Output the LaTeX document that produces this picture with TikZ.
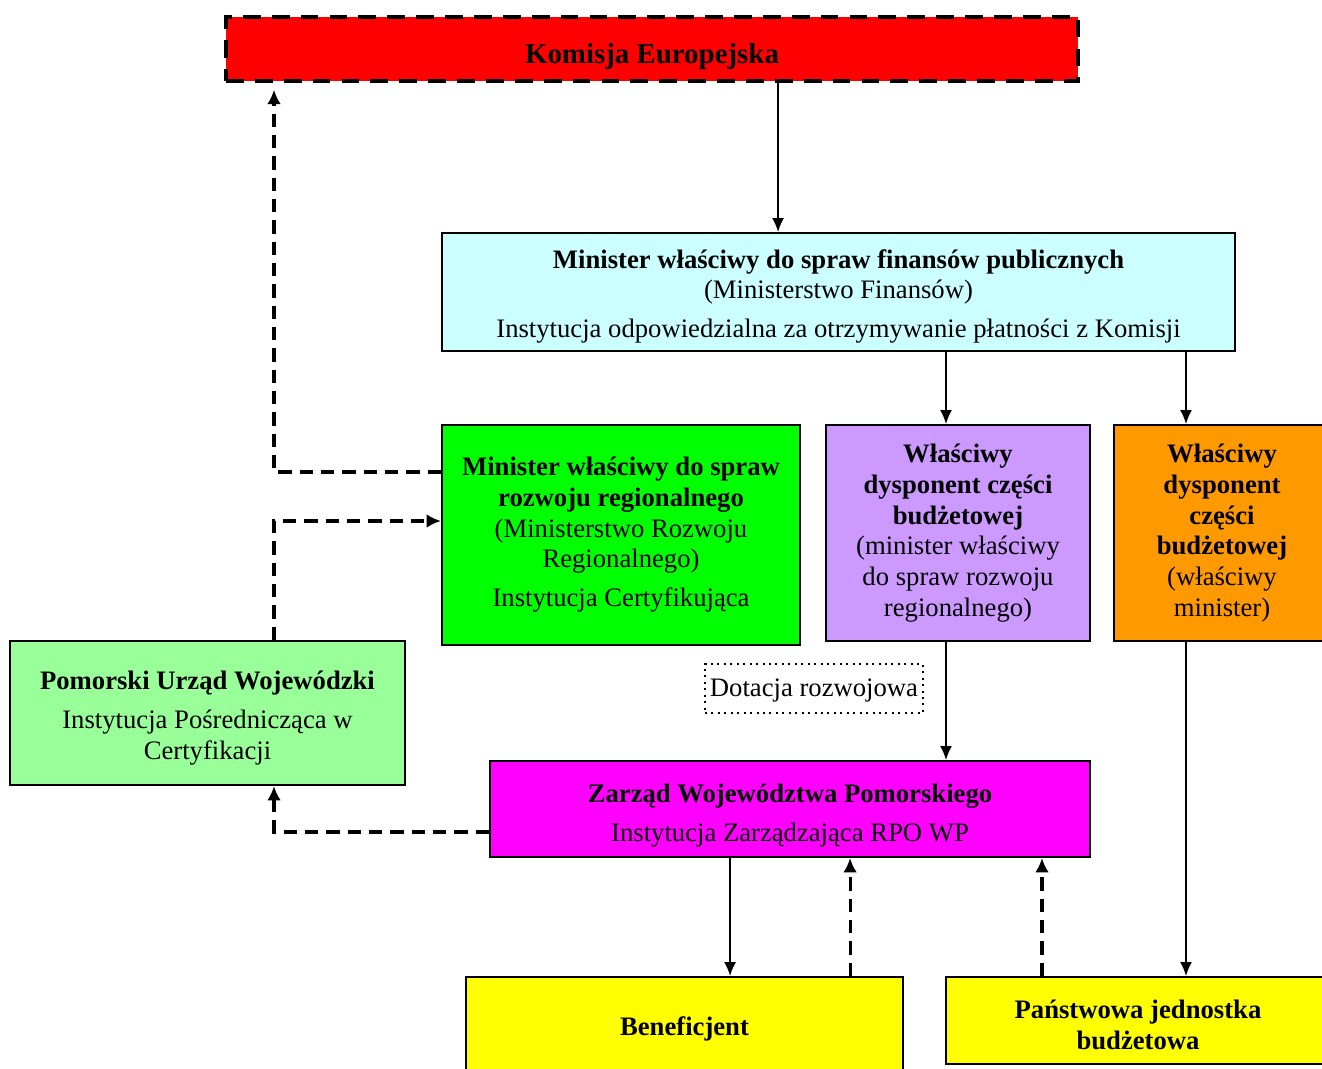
\documentclass[tikz,border=0pt]{standalone}
\usepackage{fontspec}
\setmainfont{Liberation Serif}
\usetikzlibrary{arrows.meta}

\definecolor{kered}{HTML}{FF0000}
\definecolor{mfcyan}{HTML}{CCFFFF}
\definecolor{mrrgreen}{HTML}{00FF00}
\definecolor{dyslilac}{HTML}{CC99FF}
\definecolor{dysorange}{HTML}{FF9900}
\definecolor{puwgreen}{HTML}{99FF99}
\definecolor{zwpmagenta}{HTML}{FF00FF}
\definecolor{benyellow}{HTML}{FFFF00}

\begin{document}
\begin{tikzpicture}[x=0.45pt, y=-0.45pt,
    box/.style={draw, line width=0.9pt, rectangle, inner sep=0pt, align=center,
        font=\fontsize{12}{13.8}\selectfont},
    arr/.style={line width=0.7pt, -{Latex[length=6.3pt, width=5.4pt]}},
    darr/.style={line width=1.4pt, dash pattern=on 6pt off 3.6pt,
        -{Latex[length=6.5pt, width=6.2pt]}}]
    \useasboundingbox (0,0) rectangle (1322,1068);
    \clip (0,0) rectangle (1322,1068);

    \node[box, fill=kered, line width=1.8pt, dash pattern=on 8pt off 5pt,
        minimum width=383.4pt, minimum height=28.8pt, text height=13.2pt, text depth=0pt,
        font=\fontsize{13}{15}\selectfont\bfseries] (komisja) at (652,49) {Komisja Europejska};

    \node[box, fill=mfcyan, minimum width=356.85pt, minimum height=53.1pt] (minfin) at (838.5,292)
        {\rule{0pt}{12.5pt}\textbf{Minister właściwy do spraw finansów publicznych}\\
         (Ministerstwo Finansów)\\[3.8pt]
         Instytucja odpowiedzialna za otrzymywanie płatności z Komisji};

    \node[box, fill=mrrgreen, minimum width=161.1pt, minimum height=99pt] (minrr) at (621,535)
        {\textbf{Minister właściwy do spraw}\\
         \textbf{rozwoju regionalnego}\\
         (Ministerstwo Rozwoju\\
         Regionalnego)\\[3.8pt]
         Instytucja Certyfikująca};

    \node[box, fill=dyslilac, minimum width=118.8pt, minimum height=97.2pt] (dysrr) at (958,533)
        {\textbf{Właściwy}\\
         \textbf{dysponent części}\\
         \textbf{budżetowej}\\
         (minister właściwy\\
         do spraw rozwoju\\
         regionalnego)};

    \node[box, fill=dysorange, minimum width=97.2pt, minimum height=97.2pt] (dysmin) at (1222,533)
        {\textbf{Właściwy}\\
         \textbf{dysponent}\\
         \textbf{części}\\
         \textbf{budżetowej}\\
         (właściwy\\
         minister)};

    \node[box, fill=puwgreen, minimum width=177.75pt, minimum height=64.8pt] (puw) at (207.5,713)
        {\rule{0pt}{13pt}\textbf{Pomorski Urząd Wojewódzki}\\[3.8pt]
         Instytucja Pośrednicząca w\\
         Certyfikacji};

    \node[box, draw, dotted, line width=0.6pt, minimum width=98.1pt, minimum height=22pt] (dotacja) at (814,688.5)
        {\rule{0pt}{10pt}Dotacja rozwojowa};

    \node[box, fill=zwpmagenta, minimum width=270pt, minimum height=43.2pt] (zwp) at (790,809)
        {\rule{0pt}{14pt}\textbf{Zarząd Województwa Pomorskiego}\\[3.8pt]
         Instytucja Zarządzająca RPO WP};

    \node[box, fill=benyellow, minimum width=196.65pt, minimum height=45pt] (benef) at (684.5,1027)
        {\rule{0pt}{10pt}\textbf{Beneficjent}};

    \node[box, fill=benyellow, minimum width=172.8pt, minimum height=39.15pt] (pjb) at (1138,1020.5)
        {\rule{0pt}{12pt}\textbf{Państwowa jednostka}\\
         \textbf{budżetowa}};

    \coordinate (xk) at ([xshift=-27.2pt]minfin.north);
    \coordinate (xr) at ([xshift=-5.4pt]dysrr.north);
    \coordinate (xm) at ([xshift=-16.2pt]dysmin.north);
    \coordinate (xb) at ([xshift=20.5pt]benef.north);
    \coordinate (xd) at ([xshift=74.5pt]benef.north);
    \coordinate (xp) at ([xshift=-43.2pt]pjb.north);
    \coordinate (lz) at (274,832);
    \coordinate (lp) at (274,521);
    \coordinate (lg) at (274,472);

    \draw[arr] (komisja.south -| xk) -- (xk);
    \draw[arr] (minfin.south -| xr) -- (xr);
    \draw[arr] (minfin.south -| xm) -- (xm);
    \draw[arr] (dysrr.south -| xr) -- (zwp.north -| xr);
    \draw[arr] (dysmin.south -| xm) -- (pjb.north -| xm);
    \draw[arr] (zwp.south -| xb) -- (xb);
    \draw[darr] (xd) -- (zwp.south -| xd);
    \draw[darr] (xp) -- (zwp.south -| xp);

    \draw[darr] (zwp.west |- lz) -- (lz) -- (puw.south -| lz);
    \draw[darr] (puw.north -| lp) -- (lp) -- (minrr.west |- lp);
    \draw[darr, shorten >=3pt] (minrr.west |- lg) -- (lg) -- (komisja.south -| lg);
\end{tikzpicture}
\end{document}
